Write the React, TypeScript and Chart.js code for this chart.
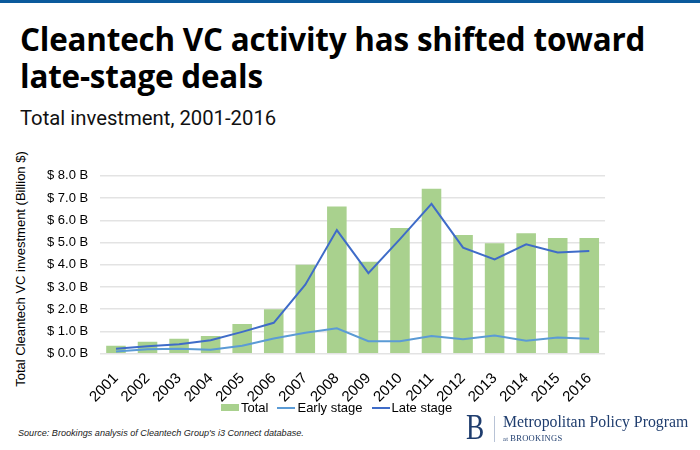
import React, { useEffect, useRef } from "react";
import { Chart, registerables } from "chart.js";

Chart.register(...registerables);

const years = ["2001","2002","2003","2004","2005","2006","2007","2008","2009","2010","2011","2012","2013","2014","2015","2016"];
const totalValues = [0.36, 0.54, 0.67, 0.8, 1.34, 2.0, 4.0, 6.62, 4.14, 5.65, 7.42, 5.34, 4.97, 5.42, 5.2, 5.2];
const earlyValues = [0.1, 0.2, 0.22, 0.18, 0.36, 0.68, 0.94, 1.14, 0.56, 0.56, 0.79, 0.65, 0.82, 0.58, 0.73, 0.67];
const lateValues = [0.22, 0.33, 0.42, 0.6, 0.98, 1.39, 3.1, 5.56, 3.62, 5.15, 6.74, 4.77, 4.24, 4.92, 4.55, 4.62];
const yTicks = [0, 1, 2, 3, 4, 5, 6, 7, 8];

const FONT = "Arial, 'Liberation Sans', sans-serif";
const GREEN = "#a9d18e";
const EARLY = "#5b9bd5";
const LATE = "#3f6cc8";

function ChartCanvas() {
  const ref = useRef<HTMLCanvasElement | null>(null);
  useEffect(() => {
    if (!ref.current) return;
    const chart = new Chart(ref.current, {
      type: "bar",
      data: {
        labels: years,
        datasets: [
          {
            type: "bar",
            label: "Total",
            data: totalValues,
            backgroundColor: GREEN,
            borderWidth: 0,
            categoryPercentage: 1,
            barPercentage: 0.62,
            order: 3,
          },
          {
            type: "line",
            label: "Early stage",
            data: earlyValues,
            borderColor: EARLY,
            backgroundColor: EARLY,
            borderWidth: 2,
            pointRadius: 0,
            tension: 0,
            order: 2,
          },
          {
            type: "line",
            label: "Late stage",
            data: lateValues,
            borderColor: LATE,
            backgroundColor: LATE,
            borderWidth: 2,
            pointRadius: 0,
            tension: 0,
            order: 1,
          },
        ] as any,
      },
      options: {
        animation: false,
        responsive: false,
        maintainAspectRatio: false,
        layout: { padding: { left: 35, right: 0, top: 6, bottom: 0 } },
        plugins: {
          tooltip: { enabled: false },
          legend: { display: false },
        },
        scales: {
          x: {
            grid: { display: false },
            border: { display: false },
            ticks: {
              font: { family: FONT, size: 15 },
              color: "#000",
              minRotation: 45,
              maxRotation: 45,
              padding: 8,
            },
          },
          y: {
            min: 0,
            max: 8,
            afterBuildTicks: (axis: any) => {
              axis.ticks = yTicks.map((v) => ({ value: v }));
            },
            grid: { color: "#e3e3e3", lineWidth: 1.5, drawTicks: false },
            border: { display: false },
            ticks: {
              font: { family: FONT, size: 13 },
              color: "#000",
              padding: 12,
              callback: (v: any) => "$ " + Number(v).toFixed(1) + " B",
            },
          },
        },
      },
    });
    return () => chart.destroy();
  }, []);
  return <canvas ref={ref} width={610} height={258} style={{ position: "absolute", left: 0, top: 156, width: 610, height: 258 }} />;
}

function LegendItem({ label, color, isLine }: { label: string; color: string; isLine: boolean }) {
  return (
    <span style={{ display: "inline-flex", alignItems: "center", marginRight: 9 }}>
      <span style={{ display: "inline-block", width: 18, height: isLine ? 2 : 7, background: color, marginRight: 2 }} />
      <span>{label}</span>
    </span>
  );
}

export default function App() {
  return (
    <div style={{ position: "fixed", left: 0, top: 0, width: 700, height: 450, background: "#fff", overflow: "hidden" }}>
      <div style={{ position: "absolute", left: 0, top: 0, width: 700, height: 3, background: "#0a5a9c" }} />
      <div style={{ position: "absolute", left: 20, top: 20, fontFamily: "'Open Sans', Roboto, sans-serif", fontWeight: 700, fontSize: 31.4, lineHeight: "37px", color: "#000", letterSpacing: -0.2, whiteSpace: "nowrap" }}>
        Cleantech VC activity has shifted toward<br />late-stage deals
      </div>
      <div style={{ position: "absolute", left: 20, top: 106, fontFamily: "Roboto, 'Open Sans', sans-serif", fontSize: 20.3, color: "#111" }}>
        Total investment, 2001-2016
      </div>
      <div style={{ position: "absolute", left: 20, top: 269, width: 0, height: 0 }}>
        <div style={{ position: "absolute", left: 0, top: 0, transform: "translate(-50%, -50%) rotate(-90deg)", whiteSpace: "nowrap", fontFamily: FONT, fontSize: 13, color: "#000" }}>
          Total Cleantech VC investment (Billion $)
        </div>
      </div>
      <ChartCanvas />
      <div style={{ position: "absolute", left: 221, top: 400, fontFamily: FONT, fontSize: 13, color: "#000", whiteSpace: "nowrap", display: "flex" }}>
        <LegendItem label="Total" color={GREEN} isLine={false} />
        <LegendItem label="Early stage" color={EARLY} isLine={true} />
        <LegendItem label="Late stage" color={LATE} isLine={true} />
      </div>
      <div style={{ position: "absolute", left: 18, top: 428, fontFamily: FONT, fontStyle: "italic", fontSize: 9.1, color: "#222", whiteSpace: "nowrap" }}>
        Source: Brookings analysis of Cleantech Group's i3 Connect database.
      </div>
      <div style={{ position: "absolute", left: 466, top: 412, width: 234, height: 36, fontFamily: "'Liberation Serif', 'DejaVu Serif', serif", color: "#1f3d6e" }}>
        <div style={{ position: "absolute", left: 0, top: -4, fontSize: 35, lineHeight: "40px", transform: "scaleX(0.78)", transformOrigin: "left top" }}>B</div>
        <div style={{ position: "absolute", left: 28, top: 4, width: 1, height: 26, background: "#b8c3d6" }} />
        <div style={{ position: "absolute", left: 37, top: 0, fontSize: 17, lineHeight: "20px", whiteSpace: "nowrap", transform: "scaleX(0.93)", transformOrigin: "left top" }}>Metropolitan Policy Program</div>
        <div style={{ position: "absolute", left: 37, top: 21, fontSize: 8.5, whiteSpace: "nowrap", letterSpacing: 0.3 }}>
          <span style={{ fontSize: 6.5 }}>at </span>BROOKINGS
        </div>
      </div>
    </div>
  );
}
